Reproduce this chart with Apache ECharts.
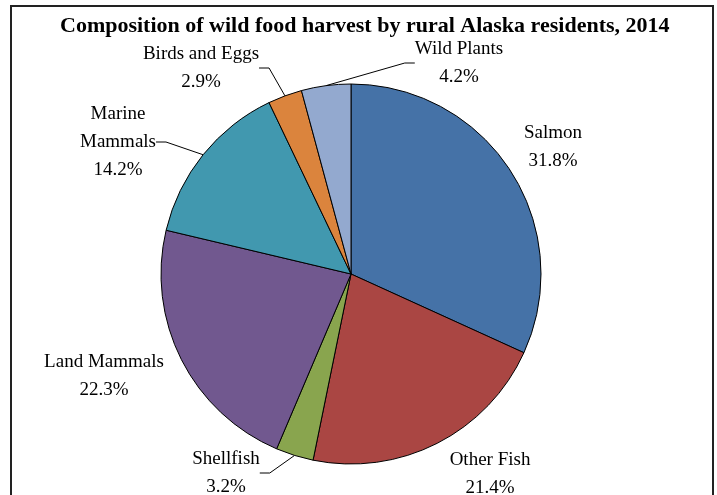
<!DOCTYPE html>
<html>
<head>
<meta charset="utf-8">
<script src="https://cdn.jsdelivr.net/npm/echarts@6/dist/echarts.min.js"></script>
<style>
html,body{margin:0;padding:0;background:#fff;}
#chart{width:717px;height:495px;}
</style>
</head>
<body>
<div id="chart"></div>
<script>
var titleText = 'Composition of wild food harvest by rural Alaska residents, 2014';
var categories = ['Salmon', 'Other Fish', 'Shellfish', 'Land Mammals', 'Marine Mammals', 'Birds and Eggs', 'Wild Plants'];
var labelNames = ['Salmon', 'Other Fish', 'Shellfish', 'Land Mammals', 'Marine\nMammals', 'Birds and Eggs', 'Wild Plants'];
var values = [31.8, 21.4, 3.2, 22.3, 14.2, 2.9, 4.2];
var colors = ['#4572A7', '#AA4643', '#89A54E', '#71588F', '#4198AF', '#DB843D', '#93A9CF'];
var showLine = [false, false, true, false, true, true, true];
// label block centre positions (layout only)
var labelPos = [[553, 147], [490, 474], [226, 473], [104, 376], [118, 142], [201, 68], [459, 63]];

var chart = echarts.init(document.getElementById('chart'));
var data = categories.map(function (c, i) {
  return {
    name: c,
    value: values[i],
    itemStyle: { color: colors[i] },
    label: { formatter: labelNames[i] + '\n' + values[i].toFixed(1) + '%' },
    labelLine: { show: showLine[i] }
  };
});
chart.setOption({
  animation: false,
  title: {
    text: titleText,
    left: 55,
    top: 10,
    textStyle: { fontFamily: 'Liberation Serif', fontWeight: 'bold', fontSize: 22, color: '#000' }
  },
  graphic: [{
    type: 'rect',
    shape: { x: 11, y: 6, width: 702, height: 520 },
    style: { fill: 'none', stroke: '#222', lineWidth: 2 }
  }],
  series: [{
    type: 'pie',
    center: [351, 274],
    radius: 190,
    startAngle: 90,
    clockwise: true,
    data: data,
    itemStyle: { borderColor: '#000', borderWidth: 1 },
    label: {
      show: true,
      position: 'outside',
      fontFamily: 'Liberation Serif',
      fontSize: 19,
      color: '#000',
      lineHeight: 28,
      align: 'center'
    },
    labelLine: { show: true, lineStyle: { color: '#000', width: 1 }, length: 10, length2: 10 },
    labelLayout: function (p) {
      var pos = labelPos[p.dataIndex];
      return { x: pos[0], y: pos[1], align: 'center', verticalAlign: 'middle' };
    },
    emphasis: { disabled: true }
  }]
});
</script>
</body>
</html>
